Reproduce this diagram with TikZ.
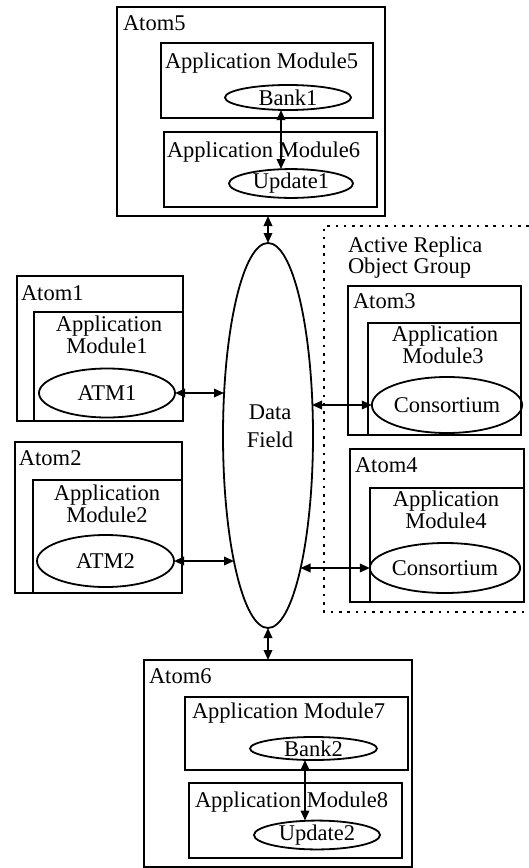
\documentclass[tikz,border=0pt]{standalone}
\usepackage{fontspec}
\setmainfont{Liberation Serif}
\usetikzlibrary{arrows.meta,shapes.geometric}

\tikzset{
  txt/.style={font=\fontsize{22.5}{20}\selectfont, inner sep=0pt, outer sep=0pt},
  box/.style={draw, line width=1.8pt, inner sep=0pt, outer sep=0pt},
  oval/.style={draw, ellipse, line width=1.8pt, inner sep=0pt, outer sep=0pt,
               font=\fontsize{22.5}{20}\selectfont},
  link/.style={line width=1.8pt, {Triangle[length=10pt,width=8.5pt]}-{Triangle[length=10pt,width=8.5pt]}},
  group/.style={line width=2.6pt, dash pattern=on 2.6pt off 5.7pt}
}

\begin{document}
\begin{tikzpicture}[x=1pt,y=-1pt]
\useasboundingbox (0,0) rectangle (529,868);

% central data field
\node[oval, minimum width=90pt, minimum height=385pt] (df) at (268,435.5) {};
\node[txt, anchor=base] (dft1) at (270,419) {Data};
\node[txt, anchor=base] (dft2) at (270,447) {Field};
% points on the rim of the data field where the side links end
\coordinate (dfA) at (224,393);
\coordinate (dfB) at (234,561);
\coordinate (dfC) at (312,405);
\coordinate (dfD) at (300.5,568);

% Atom5 (top)
\node[box, minimum width=268pt, minimum height=209pt] (atom5) at (251,111.5) {};
\node[txt, anchor=base west] (atom5l) at (123,30) {Atom5};
\node[box, minimum width=212pt, minimum height=75pt] (am5) at (267,80.5) {};
\node[txt, anchor=base west] (am5l) at (165,68) {Application Module5};
\node[oval, minimum width=126pt, minimum height=25pt] (bank1) at (288,97.5) {Bank1};
\node[box, minimum width=213pt, minimum height=75pt] (am6) at (270.5,169.5) {};
\node[txt, anchor=base west] (am6l) at (167,157) {Application Module6};
\node[oval, minimum width=124pt, minimum height=27pt] (update1) at (291,183.5) {Update1};
\coordinate (ax1) at (281,0);
\draw[link] (bank1.south -| ax1) -- (update1.north -| ax1);

% Atom1
\node[box, minimum width=166pt, minimum height=145pt] (atom1) at (100,348.5) {};
\node[txt, anchor=base west] (atom1l) at (21,300) {Atom1};
\node[box, minimum width=149pt, minimum height=109pt] (am1) at (108.5,366.5) {};
\node[txt, anchor=base] (am1a) at (109,331.5) {Application};
\node[txt, anchor=base] (am1b) at (107,353) {Module1};
\node[oval, minimum width=136pt, minimum height=49pt] (atm1) at (107,393) {ATM1};

% Atom2
\node[box, minimum width=167pt, minimum height=151pt] (atom2) at (98.5,517.5) {};
\node[txt, anchor=base west] (atom2l) at (19,465) {Atom2};
\node[box, minimum width=149pt, minimum height=113pt] (am2) at (107.5,536.5) {};
\node[txt, anchor=base] (am2a) at (107,500.5) {Application};
\node[txt, anchor=base] (am2b) at (107,522) {Module2};
\node[oval, minimum width=137pt, minimum height=52pt] (atm2) at (105.5,561) {ATM2};

% active replica object group
\draw[group] (529,226) -- (324,226) -- (324,612) -- (529,612);
\node[txt, anchor=base west] (grp1) at (348,252) {Active Replica};
\node[txt, anchor=base west] (grp2) at (348,273) {Object Group};

% Atom3
\node[box, minimum width=173pt, minimum height=149pt] (atom3) at (434.5,360.5) {};
\node[txt, anchor=base west] (atom3l) at (353,308) {Atom3};
\node[box, minimum width=153pt, minimum height=112pt] (am3) at (444.5,379) {};
\node[txt, anchor=base] (am3a) at (445,341.5) {Application};
\node[txt, anchor=base] (am3b) at (443,363) {Module3};
\node[oval, minimum width=150pt, minimum height=56pt] (cons1) at (447,405) {Consortium};

% Atom4
\node[box, minimum width=174pt, minimum height=153pt] (atom4) at (437,525.5) {};
\node[txt, anchor=base west] (atom4l) at (355,472) {Atom4};
\node[box, minimum width=154pt, minimum height=114pt] (am4) at (447,545) {};
\node[txt, anchor=base] (am4a) at (446,506.5) {Application};
\node[txt, anchor=base] (am4b) at (446,528) {Module4};
\node[oval, minimum width=144pt, minimum height=50pt] (cons2) at (445,568) {Consortium};

% Atom6 (bottom)
\node[box, minimum width=268pt, minimum height=207pt] (atom6) at (278,763.5) {};
\node[txt, anchor=base west] (atom6l) at (149,683) {Atom6};
\node[box, minimum width=223pt, minimum height=73pt] (am7) at (296.5,733.5) {};
\node[txt, anchor=base west] (am7l) at (192,718) {Application Module7};
\node[oval, minimum width=127pt, minimum height=23pt] (bank2) at (313.5,748.5) {Bank2};
\node[box, minimum width=213pt, minimum height=75pt] (am8) at (295.5,820.5) {};
\node[txt, anchor=base west] (am8l) at (195,807) {Application Module8};
\node[oval, minimum width=126pt, minimum height=26pt] (update2) at (317,835) {Update2};
\coordinate (ax2) at (305,0);
\draw[link] (bank2.south -| ax2) -- (update2.north -| ax2);

% connections to the data field
\draw[link] (atom5.south -| df.north) -- (df.north);
\draw[link] (df.south) -- (df.south |- atom6.north);
\draw[link] (atm1.east) -- (atm1.east -| dfA);
\draw[link] (atm2.east) -- (atm2.east -| dfB);
\draw[link] (cons1.west -| dfC) -- (cons1.west);
\draw[link] (cons2.west -| dfD) -- (cons2.west);
\end{tikzpicture}
\end{document}
